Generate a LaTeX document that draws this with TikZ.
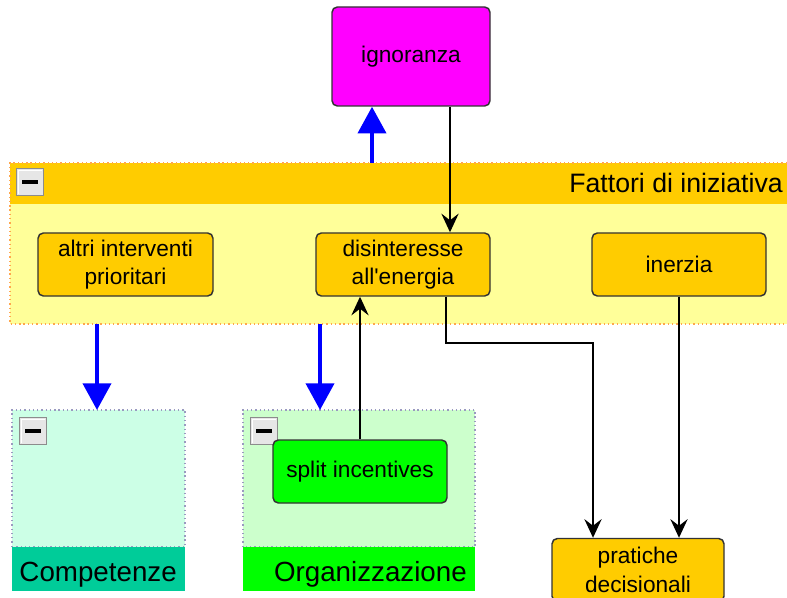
\documentclass[tikz,border=0pt]{standalone}
\usepackage{fontspec}
\setmainfont{Liberation Sans}
\usetikzlibrary{arrows.meta}

\definecolor{factorOrange}{HTML}{FFCC00}
\definecolor{factorBody}{HTML}{FFFF99}
\definecolor{factorDots}{HTML}{FFA64D}
\definecolor{boxLine}{HTML}{333333}
\definecolor{ignMagenta}{HTML}{FF00FF}
\definecolor{compBody}{HTML}{CCFFE6}
\definecolor{compBandCol}{HTML}{00CC99}
\definecolor{orgBody}{HTML}{CCFFCC}
\definecolor{orgGreen}{HTML}{00FF00}
\definecolor{groupDots}{HTML}{9A9AC0}
\definecolor{btnFace}{HTML}{E6E6E6}
\definecolor{btnEdge}{HTML}{8C8C8C}

\newcommand{\lowline}[1]{\raisebox{-1.5pt}{#1}}

\tikzset{
  box/.style={draw=boxLine, line width=1.1pt, rounded corners=4pt, align=center,
    inner sep=0pt, font=\fontsize{17}{21.5}\selectfont,
    minimum width=130.5pt, minimum height=47.25pt},
  band/.style={inner sep=0pt, outer sep=0pt},
  grouptitle/.style={inner sep=0pt, font=\fontsize{20}{24}\selectfont},
  bandtitle/.style={inner sep=0pt, font=\fontsize{20.8}{24}\selectfont},
  conn/.style={draw=black, line width=1pt,
    -{Stealth[length=14pt,width=13pt,inset=5pt]}},
  bluearrow/.style={draw=blue, line width=3pt,
    -{Triangle[length=20pt,width=21pt]}},
  minusbtn/.style={draw=btnEdge, fill=btnFace, line width=0.8pt,
    minimum width=20pt, minimum height=20pt, inner sep=0pt,
    path picture={
      \draw[white, line width=0.9pt]
        ([shift={(1.2pt,1.2pt)}]path picture bounding box.south west)
        |- ([shift={(-1.2pt,-1.2pt)}]path picture bounding box.north east);
      \fill[black] ([shift={(-6pt,-1.5pt)}]path picture bounding box.center)
        rectangle ([shift={(6pt,1.5pt)}]path picture bounding box.center);
    }},
}

\begin{document}
\begin{tikzpicture}[x=0.75pt,y=-0.75pt]
\useasboundingbox (0,0) rectangle (787,598);
\clip (0,0) rectangle (787,598);

% ---- group "Fattori di iniziativa"
\node[band, fill=factorOrange, minimum width=582.75pt, minimum height=30.75pt]
  (fattoriHead) at (398.5,183.5) {};
\node[band, fill=factorBody, minimum width=582.75pt, minimum height=90pt]
  (fattoriBody) at (398.5,264) {};
\draw[factorDots, line width=0.9pt, dash pattern=on 1pt off 2.2pt]
  (fattoriHead.north east) -- (fattoriHead.north west) -- (fattoriBody.south west)
  -- (fattoriBody.south east);
\node[grouptitle, anchor=base east] (fattoriTitle) at (783,193) {Fattori di iniziativa};
\node[minusbtn] (btnFattori) at (30,182) {};

% ---- group "Competenze"
\node[band, fill=compBody, minimum width=129.75pt, minimum height=102.75pt]
  (compBody) at (98.5,478.5) {};
\draw[groupDots, line width=0.9pt, dash pattern=on 1pt off 2.2pt]
  (compBody.south west) rectangle (compBody.north east);
\node[band, fill=compBandCol, minimum width=129.75pt, minimum height=33pt]
  (compBand) at (98.5,569) {};
\node[bandtitle, anchor=base east] (compTitle) at (177,581) {Competenze};
\node[minusbtn] (btnComp) at (33,431) {};

% ---- group "Organizzazione"
\node[band, fill=orgBody, minimum width=174pt, minimum height=102.75pt]
  (orgBody) at (359,478.5) {};
\draw[groupDots, line width=0.9pt, dash pattern=on 1pt off 2.2pt]
  (orgBody.south west) rectangle (orgBody.north east);
\node[band, fill=orgGreen, minimum width=174pt, minimum height=33pt]
  (orgBand) at (359,569) {};
\node[bandtitle, anchor=base east] (orgTitle) at (467,581) {Organizzazione};
\node[minusbtn] (btnOrg) at (264,431) {};

% ---- concept boxes
\node[box, fill=ignMagenta, minimum width=118.5pt, minimum height=74.25pt]
  (ignoranza) at (411,56.5) {ignoranza};
\node[box, fill=factorOrange, minimum width=131.25pt]
  (altri) at (125.5,264.5) {\lowline{altri interventi}\\\lowline{prioritari}};
\node[box, fill=factorOrange] (disint) at (403,264.5)
  {\lowline{disinteresse}\\\lowline{all\textquotesingle energia}};
\node[box, fill=factorOrange] (inerzia) at (679,264.5) {inerzia};
\node[box, fill=orgGreen] (split) at (360,471.5) {split incentives};
\node[box, fill=factorOrange, minimum width=129pt] (pratiche) at (638,570)
  {pratiche\\decisionali};

% ---- connectors
\coordinate (upX) at (372,0);
\coordinate (ignX) at (450,0);
\coordinate (bendA) at (446,343);
\coordinate (bendB) at (593,343);
\coordinate (downCompX) at (97,0);
\coordinate (downOrgX) at (320,0);

\draw[bluearrow] (fattoriHead.north -| upX) -- (ignoranza.south -| upX);
\draw[bluearrow] (fattoriBody.south -| downCompX) -- (compBody.north -| downCompX);
\draw[bluearrow] (fattoriBody.south -| downOrgX) -- (orgBody.north -| downOrgX);

\draw[conn] (ignoranza.south -| ignX) -- (disint.north -| ignX);
\draw[conn] (split.north) -- (split.north |- disint.south);
\draw[conn] (disint.south -| bendA) -- (bendA) -- (bendB) -- (bendB |- pratiche.north);
\draw[conn] (inerzia.south) -- (inerzia.south |- pratiche.north);
\end{tikzpicture}
\end{document}
